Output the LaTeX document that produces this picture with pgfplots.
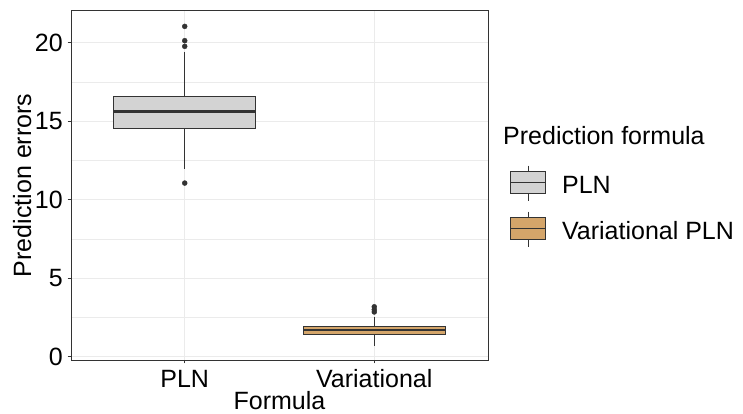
\documentclass[border=0pt]{standalone}
\usepackage{pgfplots}
\pgfplotsset{compat=1.18}
\usepgfplotslibrary{statistics}
\usepackage{fontspec}
\setmainfont{Liberation Sans}
\definecolor{gridc}{HTML}{EBEBEB}
\definecolor{dk}{HTML}{333333}
\definecolor{plnfill}{HTML}{D3D3D3}
\definecolor{varfill}{HTML}{D4A56A}
\begin{document}
\fontsize{25}{30}\selectfont
\begin{tikzpicture}
\useasboundingbox (0,0) rectangle (743pt,414pt);
\begin{axis}[
  at={(71pt,54pt)}, anchor=south west,
  scale only axis, width=417pt, height=349.3pt,
  xmin=0.4, xmax=2.6, ymin=-0.21, ymax=22.04,
  xtick={1,2}, xticklabels={PLN,Variational},
  ytick={0,5,10,15,20},
  minor ytick={2.5,7.5,12.5,17.5},
  xmajorgrids, ymajorgrids, yminorgrids,
  major grid style={gridc, line width=1.1pt},
  minor grid style={gridc, line width=0.55pt},
  axis line style={dk, line width=0.9pt},
  tick align=outside, major tick length=3.5pt, minor tick length=0pt,
  tick style={dk, line width=0.9pt},
  tick pos=left,
  boxplot/draw direction=y,
  boxplot/every median/.style={dk, line width=2.4pt},
  /pgf/number format/assume math mode=true,
  every tick label/.append style={font=\fontsize{25}{30}\selectfont, text=black},
  yticklabel style={anchor=east, inner sep=0pt, xshift=-4.5pt},
  xticklabel style={anchor=base, inner sep=0pt, yshift=-24pt},
  xlabel={Formula}, ylabel={Prediction errors},
  every axis x label/.style={at={(axis description cs:0.5,-0.1431)}, anchor=base, font=\fontsize{25}{30}\selectfont},
  every axis y label/.style={at={(axis description cs:-0.0959,0.5)}, rotate=90, anchor=base, font=\fontsize{25}{30}\selectfont},
  legend style={at={(1.0528,0.5583)}, anchor=north west, draw=none, fill=none,
    inner sep=0pt, row sep=10pt, nodes={inner sep=0pt, anchor=base west},
    font=\fontsize{25}{30}\selectfont,
    /tikz/every odd column/.style={column sep=16pt}},
  legend cell align=left,
]
\addplot[boxplot prepared={lower whisker=11.96, lower quartile=14.52, median=15.61,
    upper quartile=16.58, upper whisker=19.43, draw position=1, box extend=0.75,
    whisker extend=0, draw direction=y,
    every median/.style={dk, line width=2.4pt}},
  draw=dk, fill=plnfill, line width=0.9pt,
  legend image code/.code={
    \draw[dk, line width=0.9pt] (17.5pt,-7pt) -- (17.5pt,28pt);
    \draw[dk, fill=plnfill, line width=0.9pt] (0pt,0pt) rectangle (35pt,22pt);
    \draw[dk, line width=0.9pt] (0pt,11pt) -- (35pt,11pt);
  }] coordinates {};
\addlegendentry{PLN}
\addplot[boxplot prepared={lower whisker=0.70, lower quartile=1.43, median=1.70,
    upper quartile=1.94, upper whisker=2.55, draw position=2, box extend=0.75,
    whisker extend=0, draw direction=y,
    every median/.style={dk, line width=2.4pt}},
  draw=dk, fill=varfill, line width=0.9pt,
  legend image code/.code={
    \draw[dk, line width=0.9pt] (17.5pt,-7pt) -- (17.5pt,28pt);
    \draw[dk, fill=varfill, line width=0.9pt] (0pt,0pt) rectangle (35pt,22pt);
    \draw[dk, line width=0.9pt] (0pt,11pt) -- (35pt,11pt);
  }] coordinates {};
\addlegendentry{Variational PLN}
\addplot[only marks, mark=*, mark size=2.5pt, dk, forget plot] coordinates {
  (1,21.04) (1,20.13) (1,19.77) (1,11.06)
  (2,3.18) (2,3.00) (2,2.85)
};
\end{axis}
\node[anchor=base west, inner sep=0pt] at (503pt,269pt) {Prediction formula};
\end{tikzpicture}
\end{document}
